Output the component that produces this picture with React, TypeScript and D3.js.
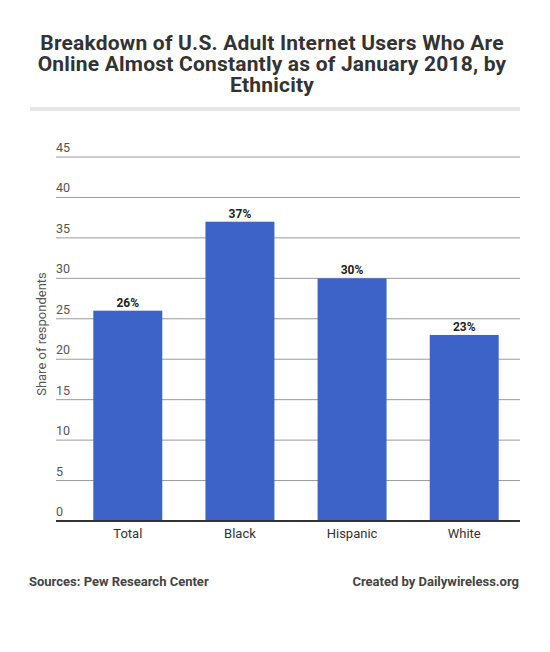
import React from "react";
import * as d3 from "d3";

const categories = ["Total", "Black", "Hispanic", "White"];
const shares = [26, 37, 30, 23];
const yTicks = [0, 5, 10, 15, 20, 25, 30, 35, 40, 45];
const titleLines = [
  "Breakdown of U.S. Adult Internet Users Who Are",
  "Online Almost Constantly as of January 2018, by",
  "Ethnicity",
];
const yAxisTitle = "Share of respondents";
const sourceText = "Sources: Pew Research Center";
const creditText = "Created by Dailywireless.org";

const W = 550;
const H = 652;
const FONT = "Roboto, 'Noto Sans', sans-serif";

export default function App() {
  const gridLeft = 56;
  const gridRight = 520;
  const plotLeft = 72;

  const y = d3.scaleLinear().domain([0, 45]).range([521, 157]);
  const x = d3
    .scaleBand<string>()
    .domain(categories)
    .range([plotLeft, gridRight])
    .paddingInner(0.385)
    .paddingOuter(0.19);

  return (
    <svg
      width={W}
      height={H}
      style={{ position: "absolute", left: 0, top: 0, background: "#fff" }}
      fontFamily={FONT}
    >
      <rect width={W} height={H} fill="#fff" />
      {titleLines.map((t, i) => (
        <text
          key={i}
          x={272}
          y={50 + i * 21}
          textAnchor="middle"
          fontSize={21}
          fontWeight={700}
          fill="#333"
          letterSpacing={0.2}
        >
          {t}
        </text>
      ))}
      <rect x={30} y={107} width={490} height={4} fill="#e6e6e6" />

      {yTicks.map((t) => (
        <g key={t}>
          {t !== 0 && (
            <line
              x1={gridLeft}
              x2={gridRight}
              y1={y(t)}
              y2={y(t)}
              stroke="#9a9a9a"
              strokeWidth={1}
            />
          )}
          <text x={gridLeft} y={y(t) - 5} fontSize={12.5} fill="#555">
            {t}
          </text>
        </g>
      ))}

      <text
        transform={`translate(46, ${334}) rotate(-90)`}
        textAnchor="middle"
        fontSize={13}
        fill="#555"
      >
        {yAxisTitle}
      </text>

      {categories.map((c, i) => (
        <g key={c}>
          <rect
            x={x(c)}
            y={y(shares[i])}
            width={x.bandwidth()}
            height={y(0) - y(shares[i])}
            fill="#3d62c8"
          />
          <text
            x={(x(c) as number) + x.bandwidth() / 2}
            y={y(shares[i]) - 4}
            textAnchor="middle"
            fontSize={12}
            fontWeight={700}
            fill="#222"
          >
            {`${shares[i]}%`}
          </text>
          <text
            x={(x(c) as number) + x.bandwidth() / 2}
            y={538}
            textAnchor="middle"
            fontSize={13}
            fill="#333"
          >
            {c}
          </text>
        </g>
      ))}

      <line
        x1={gridLeft}
        x2={gridRight}
        y1={y(0)}
        y2={y(0)}
        stroke="#333"
        strokeWidth={2}
      />

      <text x={29} y={586} fontSize={13} fontWeight={700} fill="#444">
        {sourceText}
      </text>
      <text
        x={519}
        y={586}
        textAnchor="end"
        fontSize={13}
        fontWeight={700}
        fill="#444"
      >
        {creditText}
      </text>
    </svg>
  );
}
